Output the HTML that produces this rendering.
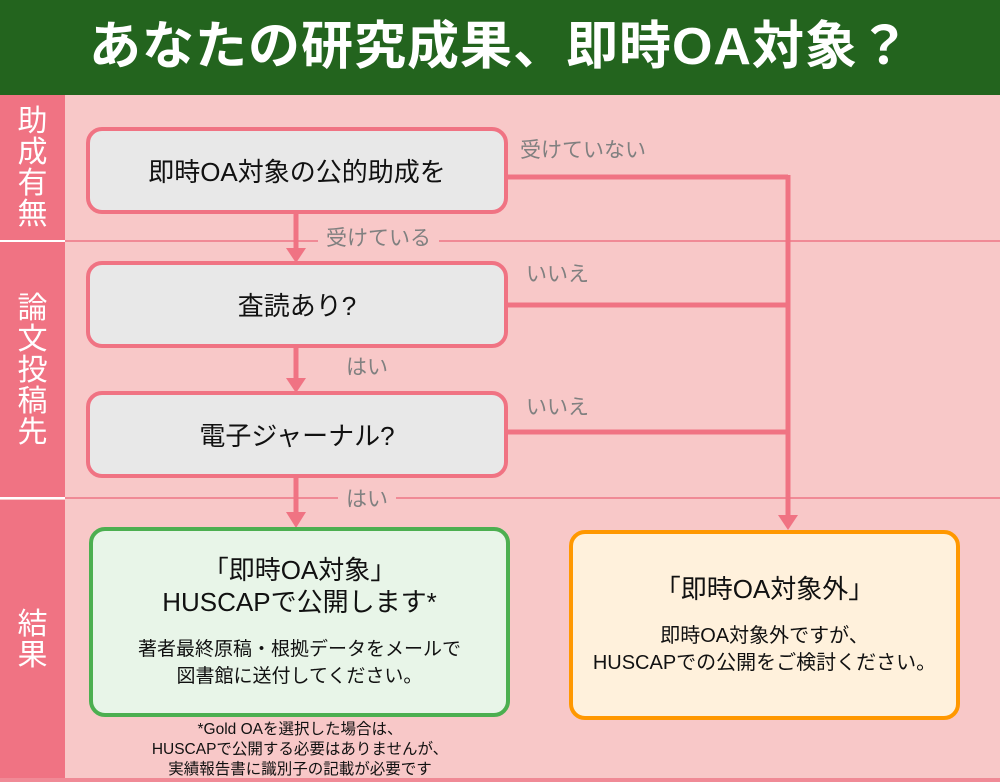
<!DOCTYPE html>
<html><head><meta charset="utf-8"><style>
*{margin:0;padding:0;box-sizing:border-box}
body{width:1000px;height:782px;position:relative;background:#f8c8c8;font-family:"Liberation Sans","Noto Sans CJK JP",sans-serif;overflow:hidden}
.title{position:absolute;left:0;top:0;width:1000px;height:95px;background:#23641e;color:#fff;font-weight:bold;font-size:52px;text-align:center;line-height:95px;letter-spacing:1px}
.side{position:absolute;left:0;width:65px;background:#f07383;color:#fff;font-size:30px;line-height:31px;text-align:center;display:flex;align-items:center;justify-content:center}
.hl{position:absolute;left:0;width:1000px;height:2px;background:#f08a96}
.hl.w{left:0;width:65px;background:#fff}
.box{position:absolute;border:4px solid #f07383;border-radius:16px;background:#e8e8e8;display:flex;align-items:center;justify-content:center;font-size:26px;color:#111}
.lbl{position:absolute;color:#808080;font-size:21px;background:#f8c8c8;padding:0 8px}
.t{text-align:center;color:#111}
</style></head><body>
<div class="title">あなたの研究成果、即時OA対象？</div>
<div class="side" style="top:95px;height:145px">助<br>成<br>有<br>無</div>
<div class="side" style="top:242px;height:256px">論<br>文<br>投<br>稿<br>先</div>
<div class="side" style="top:500px;height:280px">結<br>果</div>
<div class="hl" style="top:240px"></div><div class="hl w" style="top:240px"></div>
<div class="hl" style="top:497px"></div><div class="hl w" style="top:497px"></div>
<div class="hl" style="top:778px;height:4px"></div>
<svg width="1000" height="782" style="position:absolute;left:0;top:0">
<g stroke="#f07383" stroke-width="5" fill="none">
<line x1="296" y1="212" x2="296" y2="250"/>
<line x1="296" y1="346" x2="296" y2="380"/>
<line x1="296" y1="476" x2="296" y2="516"/>
<line x1="506" y1="177" x2="788" y2="177"/>
<line x1="506" y1="305" x2="788" y2="305"/>
<line x1="506" y1="432" x2="788" y2="432"/>
<line x1="788" y1="175" x2="788" y2="518"/>
</g>
<g fill="#f07383">
<polygon points="286,248 306,248 296,263"/>
<polygon points="286,378 306,378 296,393"/>
<polygon points="286,512 306,512 296,528"/>
<polygon points="778,515 798,515 788,530"/>
</g>
</svg>
<div class="lbl" style="left:318px;top:222px">受けている</div>
<div class="lbl" style="left:512px;top:134px;background:none">受けていない</div>
<div class="lbl" style="left:518px;top:258px;background:none">いいえ</div>
<div class="lbl" style="left:338px;top:351px;background:none">はい</div>
<div class="lbl" style="left:518px;top:391px;background:none">いいえ</div>
<div class="lbl" style="left:338px;top:483px">はい</div>
<div class="box" style="left:86px;top:127px;width:422px;height:87px">即時OA対象の公的助成を</div>
<div class="box" style="left:86px;top:261px;width:422px;height:87px">査読あり?</div>
<div class="box" style="left:86px;top:391px;width:422px;height:87px">電子ジャーナル?</div>
<div class="box" style="left:89px;top:527px;width:421px;height:190px;border-color:#4caf50;background:#e8f5e8;flex-direction:column">
<div class="t" style="font-size:26px;line-height:32px">「即時OA対象」<br>HUSCAPで公開します*</div>
<div class="t" style="font-size:19px;line-height:27px;margin-top:18px">著者最終原稿・根拠データをメールで<br>図書館に送付してください。</div>
</div>
<div class="box" style="left:569px;top:530px;width:391px;height:190px;border-color:#ff9800;background:#fff1dc;flex-direction:column">
<div class="t" style="font-size:26px;line-height:32px">「即時OA対象外」</div>
<div class="t" style="font-size:20px;line-height:27px;margin-top:18px">即時OA対象外ですが、<br>HUSCAPでの公開をご検討ください。</div>
</div>
<div class="t" style="position:absolute;left:90px;top:720px;width:420px;font-size:15.5px;line-height:20px">*Gold OAを選択した場合は、<br>HUSCAPで公開する必要はありませんが、<br>実績報告書に識別子の記載が必要です</div>
</body></html>
